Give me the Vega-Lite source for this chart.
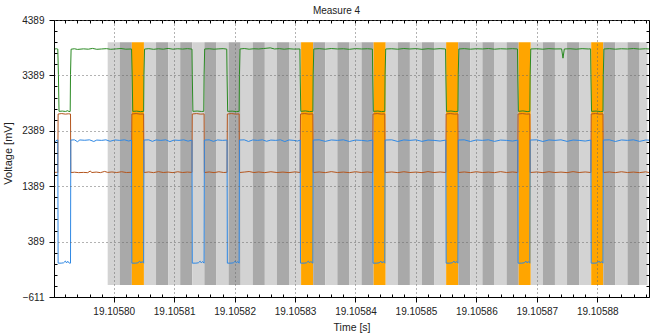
{
"$schema": "https://vega.github.io/schema/vega-lite/v6.json",
"width": 595, "height": 277,
"autosize": {"type": "none"},
"padding": {"left": 54, "top": 20, "right": 5, "bottom": 38},
"title": {"text": "Measure 4", "font": "Liberation Sans", "fontSize": 10, "fontWeight": "normal", "color": "#222", "frame": "group", "anchor": "middle", "dx": -15, "offset": -9, "baseline": "alphabetic"},
"config": {"view": {"stroke": "#000", "strokeWidth": 1}, "font": "Liberation Sans"},
"datasets": {
"bands": [
{"a":19.105799,"b":19.105801,"k":"L"},{"a":19.105801,"b":19.105803,"k":"D"},{"a":19.105803,"b":19.105805,"k":"O"},{"a":19.105805,"b":19.105807,"k":"L"},{"a":19.105807,"b":19.105809,"k":"D"},{"a":19.105809,"b":19.105811,"k":"L"},{"a":19.105811,"b":19.105813,"k":"D"},{"a":19.105813,"b":19.105815,"k":"L"},{"a":19.105815,"b":19.105817,"k":"D"},{"a":19.105817,"b":19.105819,"k":"L"},{"a":19.105819,"b":19.105821,"k":"D"},{"a":19.105821,"b":19.105823,"k":"L"},{"a":19.105823,"b":19.105825,"k":"D"},{"a":19.105825,"b":19.105827,"k":"L"},{"a":19.105827,"b":19.105829,"k":"D"},{"a":19.105829,"b":19.105831,"k":"L"},{"a":19.105831,"b":19.105833,"k":"O"},{"a":19.105833,"b":19.105835,"k":"D"},{"a":19.105835,"b":19.105837,"k":"L"},{"a":19.105837,"b":19.105839,"k":"D"},{"a":19.105839,"b":19.105841,"k":"L"},{"a":19.105841,"b":19.105843,"k":"D"},{"a":19.105843,"b":19.105845,"k":"O"},{"a":19.105845,"b":19.105847,"k":"L"},{"a":19.105847,"b":19.105849,"k":"D"},{"a":19.105849,"b":19.105851,"k":"L"},{"a":19.105851,"b":19.105853,"k":"D"},{"a":19.105853,"b":19.105855,"k":"L"},{"a":19.105855,"b":19.105857,"k":"O"},{"a":19.105857,"b":19.105859,"k":"D"},{"a":19.105859,"b":19.105861,"k":"L"},{"a":19.105861,"b":19.105863,"k":"D"},{"a":19.105863,"b":19.105865,"k":"L"},{"a":19.105865,"b":19.105867,"k":"D"},{"a":19.105867,"b":19.105869,"k":"O"},{"a":19.105869,"b":19.105871,"k":"L"},{"a":19.105871,"b":19.105873,"k":"D"},{"a":19.105873,"b":19.105875,"k":"L"},{"a":19.105875,"b":19.105877,"k":"D"},{"a":19.105877,"b":19.105879,"k":"L"},{"a":19.105879,"b":19.105881,"k":"O"},{"a":19.105881,"b":19.105883,"k":"D"},{"a":19.105883,"b":19.105885,"k":"L"},{"a":19.105885,"b":19.105887,"k":"D"},{"a":19.105887,"b":19.1058883,"k":"L"}
],
"sig": [
{"s":"G","t":19.10579012,"v":3862},{"s":"G","t":19.1057905,"v":3870},{"s":"G","t":19.10579075,"v":3864},{"s":"G","t":19.10579085,"v":3400},{"s":"G","t":19.10579095,"v":2740},{"s":"G","t":19.1057915,"v":2745},{"s":"G","t":19.105792,"v":2738},{"s":"G","t":19.1057924,"v":2752},{"s":"G","t":19.1057926,"v":2736},{"s":"G","t":19.1057928,"v":2738},{"s":"G","t":19.10579285,"v":3400},{"s":"G","t":19.10579295,"v":3862},
{"s":"G","t":19.1057935,"v":3870},{"s":"G","t":19.105794,"v":3858},{"s":"G","t":19.105795,"v":3868},{"s":"G","t":19.1057958,"v":3862},{"s":"G","t":19.1057965,"v":3876},{"s":"G","t":19.1057972,"v":3860},{"s":"G","t":19.105798,"v":3866},{"s":"G","t":19.1057988,"v":3872},{"s":"G","t":19.1057995,"v":3860},{"s":"G","t":19.1058005,"v":3868},{"s":"G","t":19.1058012,"v":3874},{"s":"G","t":19.105802,"v":3862},{"s":"G","t":19.10580295,"v":3866},
{"s":"G","t":19.10580305,"v":3400},{"s":"G","t":19.10580315,"v":2740},{"s":"G","t":19.1058038,"v":2744},{"s":"G","t":19.1058044,"v":2735},{"s":"G","t":19.10580495,"v":2740},{"s":"G","t":19.105805,"v":3400},{"s":"G","t":19.1058051,"v":3864},
{"s":"G","t":19.1058058,"v":3872},{"s":"G","t":19.1058066,"v":3860},{"s":"G","t":19.1058074,"v":3870},{"s":"G","t":19.1058082,"v":3862},{"s":"G","t":19.105809,"v":3876},{"s":"G","t":19.1058098,"v":3862},{"s":"G","t":19.1058106,"v":3870},{"s":"G","t":19.1058114,"v":3864},{"s":"G","t":19.1058122,"v":3872},{"s":"G","t":19.10581295,"v":3864},
{"s":"G","t":19.105813,"v":3400},{"s":"G","t":19.1058131,"v":2740},{"s":"G","t":19.1058138,"v":2746},{"s":"G","t":19.1058145,"v":2738},{"s":"G","t":19.1058149,"v":2740},{"s":"G","t":19.10581495,"v":3400},{"s":"G","t":19.10581505,"v":3866},
{"s":"G","t":19.1058158,"v":3870},{"s":"G","t":19.1058166,"v":3862},{"s":"G","t":19.1058174,"v":3868},{"s":"G","t":19.1058181,"v":3872},{"s":"G","t":19.1058187,"v":3864},
{"s":"G","t":19.10581875,"v":3400},{"s":"G","t":19.10581885,"v":2740},{"s":"G","t":19.1058196,"v":2744},{"s":"G","t":19.1058203,"v":2736},{"s":"G","t":19.10582075,"v":2740},{"s":"G","t":19.1058208,"v":3400},{"s":"G","t":19.1058209,"v":3866},
{"s":"G","t":19.1058216,"v":3874},{"s":"G","t":19.1058224,"v":3862},{"s":"G","t":19.1058232,"v":3870},{"s":"G","t":19.105824,"v":3866},{"s":"G","t":19.1058248,"v":3874},{"s":"G","t":19.1058259,"v":3886},{"s":"G","t":19.1058266,"v":3866},{"s":"G","t":19.1058274,"v":3872},{"s":"G","t":19.1058282,"v":3862},{"s":"G","t":19.105829,"v":3870},{"s":"G","t":19.1058298,"v":3864},{"s":"G","t":19.1058308,"v":3866},
{"s":"G","t":19.10583085,"v":3400},{"s":"G","t":19.10583095,"v":2740},{"s":"G","t":19.1058317,"v":2748},{"s":"G","t":19.1058324,"v":2736},{"s":"G","t":19.10583295,"v":2740},{"s":"G","t":19.105833,"v":3400},{"s":"G","t":19.1058331,"v":3866},
{"s":"G","t":19.105834,"v":3872},{"s":"G","t":19.105835,"v":3862},{"s":"G","t":19.105836,"v":3874},{"s":"G","t":19.105837,"v":3866},{"s":"G","t":19.105838,"v":3870},{"s":"G","t":19.105839,"v":3860},{"s":"G","t":19.10584,"v":3872},{"s":"G","t":19.105841,"v":3866},{"s":"G","t":19.105842,"v":3870},{"s":"G","t":19.1058428,"v":3864},
{"s":"G","t":19.10584285,"v":3400},{"s":"G","t":19.10584295,"v":2740},{"s":"G","t":19.1058437,"v":2745},{"s":"G","t":19.1058443,"v":2736},{"s":"G","t":19.10584485,"v":2740},{"s":"G","t":19.1058449,"v":3400},{"s":"G","t":19.105845,"v":3866},
{"s":"G","t":19.105846,"v":3870},{"s":"G","t":19.105847,"v":3862},{"s":"G","t":19.105848,"v":3874},{"s":"G","t":19.105849,"v":3866},{"s":"G","t":19.10585,"v":3872},{"s":"G","t":19.105851,"v":3860},{"s":"G","t":19.105852,"v":3870},{"s":"G","t":19.105853,"v":3864},{"s":"G","t":19.105854,"v":3872},{"s":"G","t":19.1058549,"v":3866},
{"s":"G","t":19.10585495,"v":3400},{"s":"G","t":19.10585505,"v":2740},{"s":"G","t":19.1058558,"v":2746},{"s":"G","t":19.1058565,"v":2736},{"s":"G","t":19.10585695,"v":2740},{"s":"G","t":19.105857,"v":3400},{"s":"G","t":19.1058571,"v":3866},
{"s":"G","t":19.105858,"v":3872},{"s":"G","t":19.105859,"v":3862},{"s":"G","t":19.10586,"v":3870},{"s":"G","t":19.105861,"v":3866},{"s":"G","t":19.105862,"v":3874},{"s":"G","t":19.105863,"v":3862},{"s":"G","t":19.105864,"v":3870},{"s":"G","t":19.105865,"v":3866},{"s":"G","t":19.105866,"v":3872},{"s":"G","t":19.1058668,"v":3866},
{"s":"G","t":19.10586685,"v":3400},{"s":"G","t":19.10586695,"v":2740},{"s":"G","t":19.1058677,"v":2748},{"s":"G","t":19.1058684,"v":2736},{"s":"G","t":19.10586885,"v":2740},{"s":"G","t":19.1058689,"v":3400},{"s":"G","t":19.105869,"v":3866},
{"s":"G","t":19.10587,"v":3870},{"s":"G","t":19.105871,"v":3862},{"s":"G","t":19.105872,"v":3872},{"s":"G","t":19.105873,"v":3866},{"s":"G","t":19.1058741,"v":3868},{"s":"G","t":19.10587433,"v":3700},{"s":"G","t":19.10587455,"v":3866},{"s":"G","t":19.1058755,"v":3870},{"s":"G","t":19.1058765,"v":3862},{"s":"G","t":19.1058775,"v":3872},{"s":"G","t":19.1058785,"v":3866},{"s":"G","t":19.1058789,"v":3868},
{"s":"G","t":19.10587895,"v":3400},{"s":"G","t":19.10587905,"v":2740},{"s":"G","t":19.1058798,"v":2745},{"s":"G","t":19.1058805,"v":2736},{"s":"G","t":19.10588095,"v":2740},{"s":"G","t":19.105881,"v":3400},{"s":"G","t":19.1058811,"v":3866},
{"s":"G","t":19.105882,"v":3872},{"s":"G","t":19.105883,"v":3862},{"s":"G","t":19.105884,"v":3870},{"s":"G","t":19.105885,"v":3866},{"s":"G","t":19.105886,"v":3874},{"s":"G","t":19.105887,"v":3864},{"s":"G","t":19.105888,"v":3870},{"s":"G","t":19.10588856,"v":3866},

{"s":"B","t":19.10579012,"v":1636},{"s":"B","t":19.1057905,"v":1640},{"s":"B","t":19.10579075,"v":1634},{"s":"B","t":19.1057908,"v":2692},{"s":"B","t":19.1057914,"v":2700},{"s":"B","t":19.105792,"v":2690},{"s":"B","t":19.1057925,"v":2696},{"s":"B","t":19.10579285,"v":2692},{"s":"B","t":19.1057929,"v":1634},
{"s":"B","t":19.1057935,"v":1642},{"s":"B","t":19.1057942,"v":1634},{"s":"B","t":19.105795,"v":1638},{"s":"B","t":19.1057957,"v":1634},{"s":"B","t":19.1057961,"v":1662},{"s":"B","t":19.1057964,"v":1636},{"s":"B","t":19.1057971,"v":1644},{"s":"B","t":19.1057978,"v":1634},{"s":"B","t":19.1057985,"v":1656},{"s":"B","t":19.105799,"v":1638},{"s":"B","t":19.1057997,"v":1646},{"s":"B","t":19.1058005,"v":1636},{"s":"B","t":19.1058013,"v":1650},{"s":"B","t":19.1058021,"v":1636},{"s":"B","t":19.10580295,"v":1640},
{"s":"B","t":19.105803,"v":2692},{"s":"B","t":19.1058037,"v":2700},{"s":"B","t":19.1058044,"v":2690},{"s":"B","t":19.10580495,"v":2694},{"s":"B","t":19.105805,"v":1636},
{"s":"B","t":19.1058058,"v":1646},{"s":"B","t":19.1058066,"v":1634},{"s":"B","t":19.1058074,"v":1652},{"s":"B","t":19.1058082,"v":1636},{"s":"B","t":19.105809,"v":1644},{"s":"B","t":19.1058098,"v":1634},{"s":"B","t":19.1058106,"v":1650},{"s":"B","t":19.1058114,"v":1636},{"s":"B","t":19.1058122,"v":1644},{"s":"B","t":19.10581295,"v":1638},
{"s":"B","t":19.105813,"v":2692},{"s":"B","t":19.1058137,"v":2700},{"s":"B","t":19.1058144,"v":2690},{"s":"B","t":19.10581495,"v":2694},{"s":"B","t":19.105815,"v":1636},
{"s":"B","t":19.1058158,"v":1646},{"s":"B","t":19.1058166,"v":1634},{"s":"B","t":19.1058174,"v":1650},{"s":"B","t":19.1058182,"v":1636},{"s":"B","t":19.10581875,"v":1640},
{"s":"B","t":19.1058188,"v":2692},{"s":"B","t":19.1058195,"v":2700},{"s":"B","t":19.1058202,"v":2690},{"s":"B","t":19.10582075,"v":2694},{"s":"B","t":19.1058208,"v":1636},
{"s":"B","t":19.1058216,"v":1644},{"s":"B","t":19.1058224,"v":1654},{"s":"B","t":19.1058232,"v":1636},{"s":"B","t":19.105824,"v":1646},{"s":"B","t":19.105825,"v":1634},{"s":"B","t":19.105826,"v":1650},{"s":"B","t":19.105827,"v":1636},{"s":"B","t":19.105828,"v":1644},{"s":"B","t":19.105829,"v":1634},{"s":"B","t":19.10583,"v":1648},{"s":"B","t":19.10583085,"v":1636},
{"s":"B","t":19.1058309,"v":2692},{"s":"B","t":19.1058316,"v":2700},{"s":"B","t":19.1058323,"v":2690},{"s":"B","t":19.10583295,"v":2694},{"s":"B","t":19.105833,"v":1636},
{"s":"B","t":19.105834,"v":1646},{"s":"B","t":19.105835,"v":1634},{"s":"B","t":19.105836,"v":1652},{"s":"B","t":19.105837,"v":1636},{"s":"B","t":19.105838,"v":1644},{"s":"B","t":19.105839,"v":1634},{"s":"B","t":19.10584,"v":1650},{"s":"B","t":19.105841,"v":1636},{"s":"B","t":19.105842,"v":1646},{"s":"B","t":19.10584285,"v":1636},
{"s":"B","t":19.1058429,"v":2692},{"s":"B","t":19.1058436,"v":2700},{"s":"B","t":19.1058443,"v":2690},{"s":"B","t":19.10584485,"v":2694},{"s":"B","t":19.1058449,"v":1636},
{"s":"B","t":19.105846,"v":1646},{"s":"B","t":19.105847,"v":1634},{"s":"B","t":19.105848,"v":1650},{"s":"B","t":19.105849,"v":1636},{"s":"B","t":19.10585,"v":1644},{"s":"B","t":19.105851,"v":1634},{"s":"B","t":19.105852,"v":1652},{"s":"B","t":19.105853,"v":1636},{"s":"B","t":19.105854,"v":1646},{"s":"B","t":19.10585495,"v":1636},
{"s":"B","t":19.105855,"v":2692},{"s":"B","t":19.1058557,"v":2700},{"s":"B","t":19.1058564,"v":2690},{"s":"B","t":19.10585695,"v":2694},{"s":"B","t":19.105857,"v":1636},
{"s":"B","t":19.105858,"v":1646},{"s":"B","t":19.105859,"v":1634},{"s":"B","t":19.10586,"v":1650},{"s":"B","t":19.105861,"v":1636},{"s":"B","t":19.105862,"v":1644},{"s":"B","t":19.105863,"v":1634},{"s":"B","t":19.105864,"v":1652},{"s":"B","t":19.105865,"v":1636},{"s":"B","t":19.105866,"v":1646},{"s":"B","t":19.10586685,"v":1636},
{"s":"B","t":19.1058669,"v":2692},{"s":"B","t":19.1058676,"v":2700},{"s":"B","t":19.1058683,"v":2690},{"s":"B","t":19.10586885,"v":2694},{"s":"B","t":19.1058689,"v":1636},
{"s":"B","t":19.10587,"v":1646},{"s":"B","t":19.105871,"v":1634},{"s":"B","t":19.105872,"v":1650},{"s":"B","t":19.105873,"v":1636},{"s":"B","t":19.105874,"v":1644},{"s":"B","t":19.105875,"v":1634},{"s":"B","t":19.105876,"v":1652},{"s":"B","t":19.105877,"v":1636},{"s":"B","t":19.105878,"v":1646},{"s":"B","t":19.10587895,"v":1636},
{"s":"B","t":19.105879,"v":2692},{"s":"B","t":19.1058797,"v":2700},{"s":"B","t":19.1058804,"v":2690},{"s":"B","t":19.10588095,"v":2694},{"s":"B","t":19.105881,"v":1636},
{"s":"B","t":19.105882,"v":1646},{"s":"B","t":19.105883,"v":1634},{"s":"B","t":19.105884,"v":1650},{"s":"B","t":19.105885,"v":1636},{"s":"B","t":19.105886,"v":1644},{"s":"B","t":19.105887,"v":1634},{"s":"B","t":19.105888,"v":1648},{"s":"B","t":19.10588856,"v":1636},

{"s":"C","t":19.10579012,"v":2222},{"s":"C","t":19.1057904,"v":2196},{"s":"C","t":19.1057906,"v":2224},{"s":"C","t":19.10579075,"v":2222},{"s":"C","t":19.1057908,"v":0},{"s":"C","t":19.1057913,"v":0},{"s":"C","t":19.1057917,"v":6},{"s":"C","t":19.105792,"v":38},{"s":"C","t":19.1057922,"v":4},{"s":"C","t":19.1057924,"v":34},{"s":"C","t":19.10579265,"v":0},{"s":"C","t":19.10579285,"v":0},{"s":"C","t":19.1057929,"v":2222},
{"s":"C","t":19.1057935,"v":2226},{"s":"C","t":19.105794,"v":2192},{"s":"C","t":19.1057944,"v":2224},{"s":"C","t":19.1057952,"v":2218},{"s":"C","t":19.105796,"v":2226},{"s":"C","t":19.1057967,"v":2196},{"s":"C","t":19.1057972,"v":2222},{"s":"C","t":19.105798,"v":2216},{"s":"C","t":19.1057987,"v":2226},{"s":"C","t":19.1057994,"v":2200},{"s":"C","t":19.1058002,"v":2224},{"s":"C","t":19.105801,"v":2216},{"s":"C","t":19.1058018,"v":2226},{"s":"C","t":19.1058025,"v":2204},{"s":"C","t":19.10580295,"v":2222},
{"s":"C","t":19.105803,"v":0},{"s":"C","t":19.1058036,"v":0},{"s":"C","t":19.105804,"v":6},{"s":"C","t":19.1058043,"v":36},{"s":"C","t":19.1058045,"v":4},{"s":"C","t":19.1058047,"v":30},{"s":"C","t":19.10580495,"v":0},{"s":"C","t":19.105805,"v":2222},
{"s":"C","t":19.1058058,"v":2226},{"s":"C","t":19.1058064,"v":2198},{"s":"C","t":19.105807,"v":2224},{"s":"C","t":19.1058078,"v":2216},{"s":"C","t":19.1058086,"v":2226},{"s":"C","t":19.1058093,"v":2194},{"s":"C","t":19.10581,"v":2222},{"s":"C","t":19.1058108,"v":2216},{"s":"C","t":19.1058116,"v":2226},{"s":"C","t":19.1058123,"v":2202},{"s":"C","t":19.10581295,"v":2222},
{"s":"C","t":19.105813,"v":0},{"s":"C","t":19.1058136,"v":0},{"s":"C","t":19.105814,"v":6},{"s":"C","t":19.1058143,"v":36},{"s":"C","t":19.1058145,"v":4},{"s":"C","t":19.1058147,"v":30},{"s":"C","t":19.10581495,"v":0},{"s":"C","t":19.105815,"v":2222},
{"s":"C","t":19.1058158,"v":2226},{"s":"C","t":19.1058165,"v":2198},{"s":"C","t":19.1058172,"v":2224},{"s":"C","t":19.105818,"v":2216},{"s":"C","t":19.10581875,"v":2222},
{"s":"C","t":19.1058188,"v":0},{"s":"C","t":19.1058194,"v":0},{"s":"C","t":19.1058198,"v":6},{"s":"C","t":19.1058201,"v":36},{"s":"C","t":19.1058203,"v":4},{"s":"C","t":19.1058205,"v":30},{"s":"C","t":19.10582075,"v":0},{"s":"C","t":19.1058208,"v":2222},
{"s":"C","t":19.1058216,"v":2226},{"s":"C","t":19.1058223,"v":2196},{"s":"C","t":19.105823,"v":2224},{"s":"C","t":19.1058238,"v":2216},{"s":"C","t":19.1058246,"v":2226},{"s":"C","t":19.1058253,"v":2200},{"s":"C","t":19.105826,"v":2222},{"s":"C","t":19.1058268,"v":2216},{"s":"C","t":19.1058276,"v":2226},{"s":"C","t":19.1058283,"v":2194},{"s":"C","t":19.105829,"v":2224},{"s":"C","t":19.1058298,"v":2216},{"s":"C","t":19.1058304,"v":2204},{"s":"C","t":19.10583085,"v":2222},
{"s":"C","t":19.1058309,"v":0},{"s":"C","t":19.1058315,"v":0},{"s":"C","t":19.1058319,"v":6},{"s":"C","t":19.1058322,"v":36},{"s":"C","t":19.1058324,"v":4},{"s":"C","t":19.1058326,"v":30},{"s":"C","t":19.10583295,"v":0},{"s":"C","t":19.105833,"v":2222},
{"s":"C","t":19.105834,"v":2226},{"s":"C","t":19.105835,"v":2198},{"s":"C","t":19.105836,"v":2224},{"s":"C","t":19.105837,"v":2216},{"s":"C","t":19.105838,"v":2226},{"s":"C","t":19.105839,"v":2196},{"s":"C","t":19.10584,"v":2222},{"s":"C","t":19.105841,"v":2216},{"s":"C","t":19.105842,"v":2204},{"s":"C","t":19.10584285,"v":2222},
{"s":"C","t":19.1058429,"v":0},{"s":"C","t":19.1058435,"v":0},{"s":"C","t":19.1058439,"v":6},{"s":"C","t":19.1058442,"v":36},{"s":"C","t":19.1058444,"v":4},{"s":"C","t":19.1058446,"v":30},{"s":"C","t":19.10584485,"v":0},{"s":"C","t":19.1058449,"v":2222},
{"s":"C","t":19.105846,"v":2226},{"s":"C","t":19.105847,"v":2196},{"s":"C","t":19.105848,"v":2224},{"s":"C","t":19.105849,"v":2216},{"s":"C","t":19.10585,"v":2226},{"s":"C","t":19.105851,"v":2198},{"s":"C","t":19.105852,"v":2222},{"s":"C","t":19.105853,"v":2216},{"s":"C","t":19.105854,"v":2204},{"s":"C","t":19.10585495,"v":2222},
{"s":"C","t":19.105855,"v":0},{"s":"C","t":19.1058556,"v":0},{"s":"C","t":19.105856,"v":6},{"s":"C","t":19.1058563,"v":36},{"s":"C","t":19.1058565,"v":4},{"s":"C","t":19.1058567,"v":30},{"s":"C","t":19.10585695,"v":0},{"s":"C","t":19.105857,"v":2222},
{"s":"C","t":19.105858,"v":2226},{"s":"C","t":19.105859,"v":2196},{"s":"C","t":19.10586,"v":2224},{"s":"C","t":19.105861,"v":2216},{"s":"C","t":19.105862,"v":2226},{"s":"C","t":19.105863,"v":2198},{"s":"C","t":19.105864,"v":2222},{"s":"C","t":19.105865,"v":2216},{"s":"C","t":19.105866,"v":2204},{"s":"C","t":19.10586685,"v":2222},
{"s":"C","t":19.1058669,"v":0},{"s":"C","t":19.1058675,"v":0},{"s":"C","t":19.1058679,"v":6},{"s":"C","t":19.1058682,"v":36},{"s":"C","t":19.1058684,"v":4},{"s":"C","t":19.1058686,"v":30},{"s":"C","t":19.10586885,"v":0},{"s":"C","t":19.1058689,"v":2222},
{"s":"C","t":19.10587,"v":2226},{"s":"C","t":19.105871,"v":2196},{"s":"C","t":19.105872,"v":2224},{"s":"C","t":19.105873,"v":2216},{"s":"C","t":19.105874,"v":2226},{"s":"C","t":19.105875,"v":2198},{"s":"C","t":19.105876,"v":2222},{"s":"C","t":19.105877,"v":2216},{"s":"C","t":19.105878,"v":2204},{"s":"C","t":19.10587895,"v":2222},
{"s":"C","t":19.105879,"v":0},{"s":"C","t":19.1058796,"v":0},{"s":"C","t":19.10588,"v":6},{"s":"C","t":19.1058803,"v":36},{"s":"C","t":19.1058805,"v":4},{"s":"C","t":19.1058807,"v":30},{"s":"C","t":19.10588095,"v":0},{"s":"C","t":19.105881,"v":2222},
{"s":"C","t":19.105882,"v":2226},{"s":"C","t":19.105883,"v":2196},{"s":"C","t":19.105884,"v":2224},{"s":"C","t":19.105885,"v":2216},{"s":"C","t":19.105886,"v":2226},{"s":"C","t":19.105887,"v":2198},{"s":"C","t":19.105888,"v":2222},{"s":"C","t":19.10588856,"v":2220}
]
},
"resolve": {"axis": {"x": "independent", "y": "independent"}},
"layer": [
{
"data": {"name": "bands"},
"mark": {"type": "rect"},
"encoding": {
"x": {"field": "a", "type": "quantitative", "scale": {"domain": [19.10579012, 19.10588856], "nice": false, "zero": false},
"axis": {"orient": "top", "values": [19.105792,19.105794,19.105796,19.105798,19.1058,19.105802,19.105804,19.105806,19.105808,19.10581,19.105812,19.105814,19.105816,19.105818,19.10582,19.105822,19.105824,19.105826,19.105828,19.10583,19.105832,19.105834,19.105836,19.105838,19.10584,19.105842,19.105844,19.105846,19.105848,19.10585,19.105852,19.105854,19.105856,19.105858,19.10586,19.105862,19.105864,19.105866,19.105868,19.10587,19.105872,19.105874,19.105876,19.105878,19.10588,19.105882,19.105884,19.105886,19.105888], "labels": false, "ticks": true, "tickSize": -3, "tickColor": "#000", "domain": false, "grid": false, "title": null, "zindex": 1}},
"x2": {"field": "b"},
"y": {"datum": 3986, "type": "quantitative", "scale": {"domain": [-611, 4389], "nice": false, "zero": false},
"axis": {"orient": "right", "values": [-411,-211,-11,189,389,589,789,989,1189,1389,1589,1789,1989,2189,2389,2589,2789,2989,3189,3389,3589,3789,3989,4189], "labels": false, "ticks": true, "tickSize": -3, "tickColor": "#000", "domain": false, "grid": false, "title": null, "zindex": 1}},
"y2": {"datum": -394},
"fill": {"field": "k", "type": "nominal", "scale": {"domain": ["L","D","O"], "range": ["#d3d3d3","#a9a9a9","#ffa500"]}, "legend": null}
}
},
{
"data": {"name": "sig"},
"mark": {"type": "line", "strokeWidth": 1, "clip": true},
"encoding": {
"x": {"field": "t", "type": "quantitative", "scale": {"domain": [19.10579012, 19.10588856], "nice": false, "zero": false},
"axis": {"orient": "bottom", "values": [19.1058,19.10581,19.10582,19.10583,19.10584,19.10585,19.10586,19.10587,19.10588], "format": ".5f", "title": "Time [s]", "grid": true, "gridDash": [1,3], "gridColor": "#666", "gridOpacity": 1, "tickSize": 5, "tickColor": "#000", "domain": true, "domainColor": "#000", "labelFont": "Liberation Sans", "labelFontSize": 10, "labelColor": "#222", "labelPadding": 4, "labelFlush": false, "labelOverlap": false, "titleFont": "Liberation Sans", "titleFontSize": 10.5, "titleFontWeight": "normal", "titleColor": "#222", "titleBaseline": "alphabetic", "titleY": 33, "zindex": 1}},
"y": {"field": "v", "type": "quantitative", "scale": {"domain": [-611, 4389], "nice": false, "zero": false},
"axis": {"orient": "left", "values": [-611,389,1389,2389,3389,4389], "format": "d", "title": "Voltage [mV]", "grid": true, "gridDash": [1,3], "gridColor": "#666", "gridOpacity": 1, "tickSize": 5, "tickColor": "#000", "domain": true, "domainColor": "#000", "labelFont": "Liberation Sans", "labelFontSize": 10, "labelColor": "#222", "labelPadding": 5, "labelFlush": false, "labelOverlap": false, "titleFont": "Liberation Sans", "titleFontSize": 11, "titleFontWeight": "normal", "titleColor": "#222", "titleBaseline": "alphabetic", "titleX": -43, "titleY": 133, "zindex": 1}},
"stroke": {"field": "s", "type": "nominal", "scale": {"domain": ["G","B","C"], "range": ["#2a8a22","#b4561e","#2f88e4"]}, "legend": null}
}
},
{
"data": {"name": "sig"},
"mark": {"type": "point", "opacity": 0},
"encoding": {
"x": {"field": "t", "type": "quantitative", "scale": {"domain": [19.10579012, 19.10588856], "nice": false, "zero": false},
"axis": {"orient": "bottom", "values": [19.105792,19.105794,19.105796,19.105798,19.105802,19.105804,19.105806,19.105808,19.105812,19.105814,19.105816,19.105818,19.105822,19.105824,19.105826,19.105828,19.105832,19.105834,19.105836,19.105838,19.105842,19.105844,19.105846,19.105848,19.105852,19.105854,19.105856,19.105858,19.105862,19.105864,19.105866,19.105868,19.105872,19.105874,19.105876,19.105878,19.105882,19.105884,19.105886,19.105888], "labels": false, "ticks": true, "tickSize": -3, "tickColor": "#000", "domain": false, "grid": false, "title": null, "zindex": 1}},
"y": {"field": "v", "type": "quantitative", "scale": {"domain": [-611, 4389], "nice": false, "zero": false},
"axis": {"orient": "left", "values": [-411,-211,-11,189,589,789,989,1189,1589,1789,1989,2189,2589,2789,2989,3189,3589,3789,3989,4189], "labels": false, "ticks": true, "tickSize": -3, "tickColor": "#000", "domain": false, "grid": false, "title": null, "zindex": 1}}
}
}
]
}
